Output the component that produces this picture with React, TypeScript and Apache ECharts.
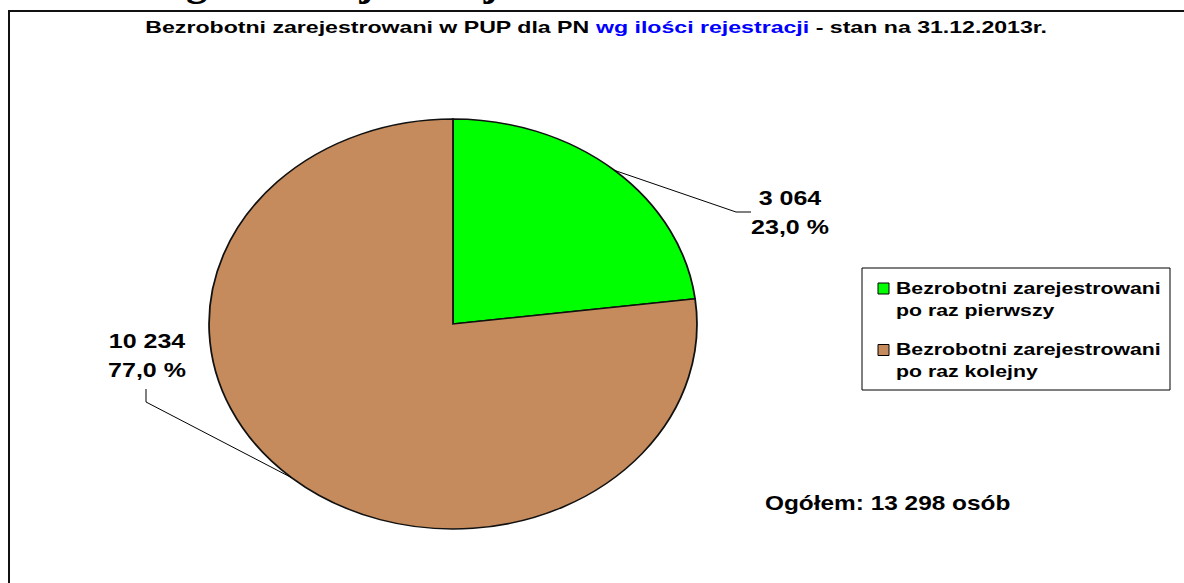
import React, { useEffect, useRef } from 'react';
import * as echarts from 'echarts';

// ---- data ----
const categories = ['Bezrobotni zarejestrowani\npo raz pierwszy', 'Bezrobotni zarejestrowani\npo raz kolejny'];
const values = [3064, 10234];
const colors = ['#00FF00', '#C68B5C'];
const titleParts = ['Bezrobotni zarejestrowani w PUP dla PN ', 'wg ilości rejestracji', ' - stan na 31.12.2013r.'];
const headingText = 'Bezrobotni wg ilości rejestracji';
const totalPrefix = 'Ogółem: ';
const totalSuffix = ' osób';

const fmt = (n: number) => String(n).replace(/\B(?=(\d{3})+(?!\d))/g, ' ');
const pct = (v: number, t: number) => (v / t * 100).toFixed(1).replace('.', ',') + ' %';

// ---- layout ----
const CX = 453, CY = 324, RX = 244, RY = 205;
const FONT = '"Liberation Sans", Arial, sans-serif';
const labelLayout = [
  { x: 790, y: 213, leader: [[736, 212], [751, 212]] },
  { x: 147, y: 356, leader: [[146, 402], [146, 389]] },
];

export default function App() {
  const ref = useRef<HTMLDivElement>(null);
  useEffect(() => {
    document.body.style.margin = '0';
    const chart = echarts.init(ref.current!, null, { renderer: 'svg' });
    const total = values.reduce((a, b) => a + b, 0);

    const legendEls: any[] = [
      { type: 'rect', shape: { x: 862, y: 268, width: 308, height: 122 }, style: { fill: '#fff', stroke: '#000', lineWidth: 1 } },
    ];
    categories.forEach((c, i) => {
      legendEls.push({ type: 'rect', shape: { x: 878, y: 283 + i * 61.5, width: 11, height: 11 }, style: { fill: colors[i], stroke: '#000', lineWidth: 1 } });
      legendEls.push({
        type: 'text', x: 896, y: 299 + i * 61.5, scaleX: 1.33,
        style: { text: c, fill: '#000', fontSize: 16, fontWeight: 'bold', fontFamily: FONT, lineHeight: 22, align: 'left', verticalAlign: 'middle', textAlign: 'left', textVerticalAlign: 'middle' },
      });
    });

    chart.setOption({
      animation: false,
      backgroundColor: '#fff',
      graphic: [
        { type: 'rect', shape: { x: 9, y: 11, width: 1300, height: 700 }, style: { fill: 'none', stroke: '#111', lineWidth: 2 } },
        {
          type: 'text', x: 510, y: 2,
          style: { text: headingText, fill: '#000', fontSize: 43, fontWeight: 'bold', fontFamily: '"Liberation Serif", "Times New Roman", serif', align: 'right', verticalAlign: 'bottom', textAlign: 'right', textVerticalAlign: 'bottom' },
        },
        {
          type: 'text', x: 596, y: 27, scaleX: 1.36,
          style: {
            text: `{a|${titleParts[0]}}{b|${titleParts[1]}}{a|${titleParts[2]}}`,
            fontSize: 17, fontWeight: 'bold', fontFamily: FONT, align: 'center', verticalAlign: 'middle', textAlign: 'center', textVerticalAlign: 'middle',
            rich: {
              a: { fill: '#000', color: '#000', fontSize: 17, fontWeight: 'bold', fontFamily: FONT },
              b: { fill: '#0000FF', color: '#0000FF', fontSize: 17, fontWeight: 'bold', fontFamily: FONT },
            },
          },
        },
        ...legendEls,
        {
          type: 'text', x: 765, y: 503, scaleX: 1.22,
          style: { text: totalPrefix + fmt(total) + totalSuffix, fill: '#000', fontSize: 20, fontWeight: 'bold', fontFamily: FONT, align: 'left', verticalAlign: 'middle', textAlign: 'left', textVerticalAlign: 'middle' },
        },
      ],
      series: [{
        type: 'custom',
        coordinateSystem: 'none',
        data: values.map((v, i) => ({ value: v, name: categories[i] })),
        renderItem: (params: any, api: any) => {
          const i = params.dataIndex;
          const before = values.slice(0, i).reduce((a, b) => a + b, 0);
          const v = api.value(0);
          const f0 = before / total, f1 = (before + v) / total, fm = (f0 + f1) / 2;
          const a0 = -Math.PI / 2 + 2 * Math.PI * f0;
          const a1 = -Math.PI / 2 + 2 * Math.PI * f1;
          const ex = CX + RX * Math.sin(2 * Math.PI * fm);
          const ey = CY - RY * Math.cos(2 * Math.PI * fm);
          const L = labelLayout[i];
          return {
            type: 'group',
            children: [
              {
                type: 'group', x: CX, y: CY, scaleX: RX / RY,
                children: [{
                  type: 'sector',
                  shape: { cx: 0, cy: 0, r: RY, r0: 0, startAngle: a0, endAngle: a1, clockwise: true },
                  style: { fill: colors[i], stroke: '#111', lineWidth: 1.5, strokeNoScale: true },
                }],
              },
              { type: 'polyline', shape: { points: [[ex, ey], ...L.leader] }, style: { stroke: '#000', lineWidth: 1, fill: 'none' } },
              {
                type: 'text', x: L.x, y: L.y, scaleX: 1.25,
                style: { text: fmt(v) + '\n' + pct(v, total), fill: '#000', fontSize: 20, fontWeight: 'bold', fontFamily: FONT, lineHeight: 29, align: 'center', verticalAlign: 'middle', textAlign: 'center', textVerticalAlign: 'middle' },
              },
            ],
          };
        },
      }],
    });
    return () => chart.dispose();
  }, []);
  return <div ref={ref} style={{ width: 1184, height: 583 }} />;
}
